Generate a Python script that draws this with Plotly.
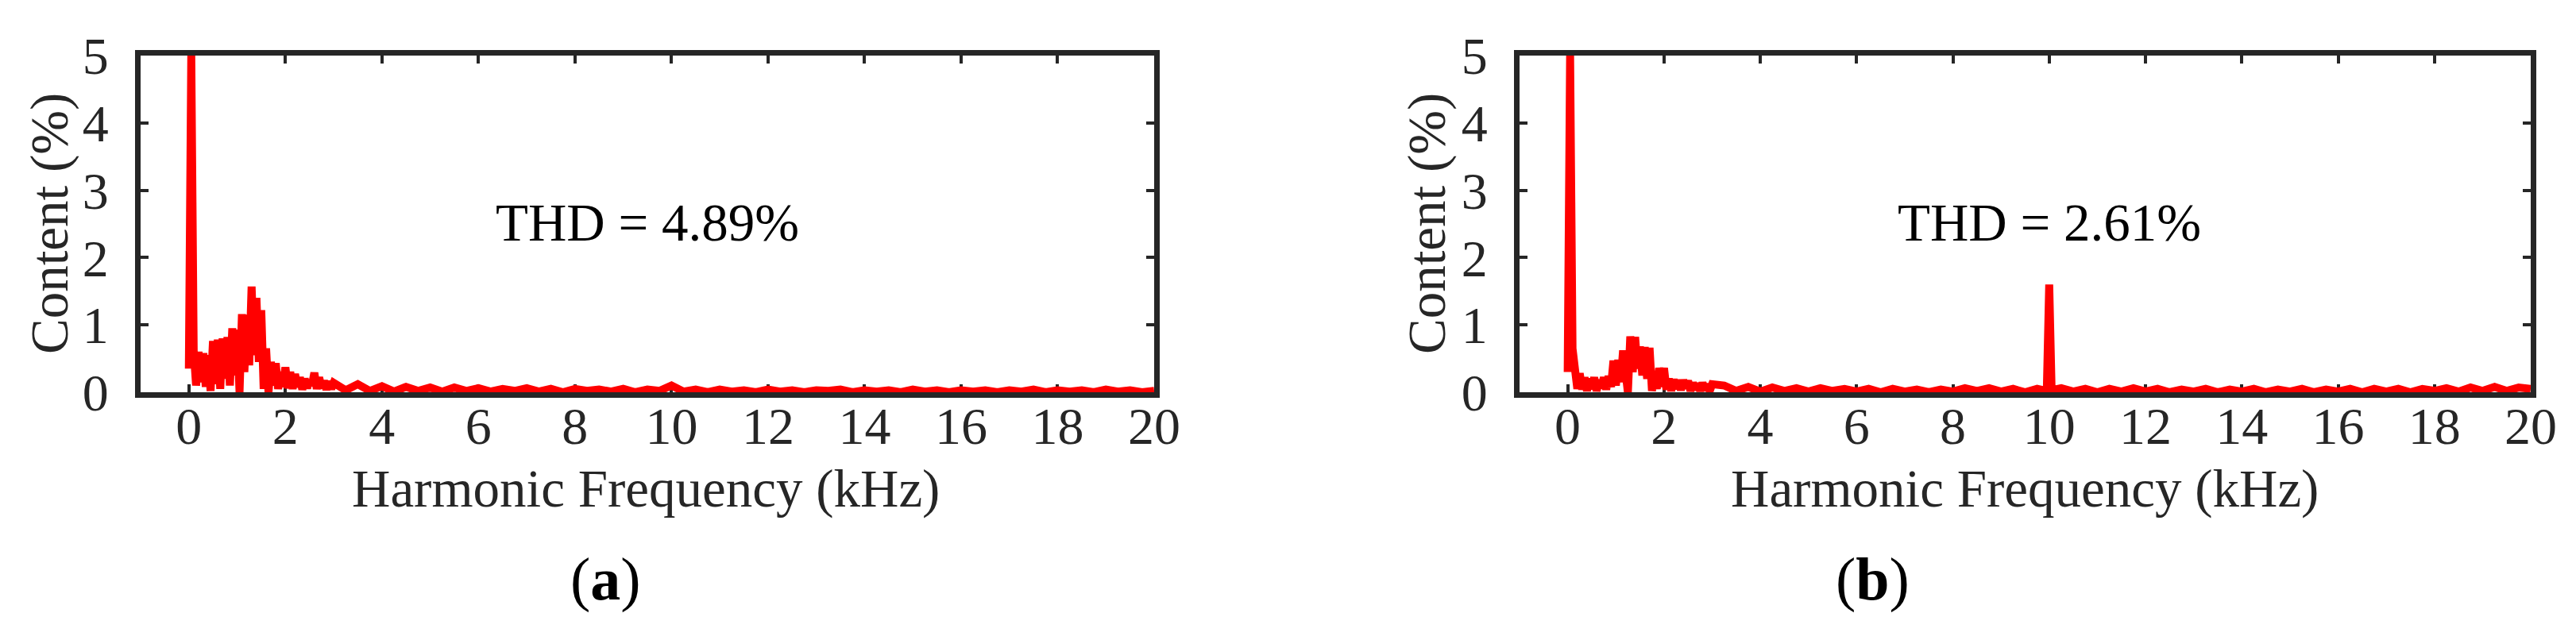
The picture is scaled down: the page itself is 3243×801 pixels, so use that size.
"""Harmonic spectra of the output current, two cases side by side."""

import plotly.graph_objects as go

SERIF = "Liberation Serif, Times New Roman, serif"
AXIS_GREY = "#262626"
RED = "#ff0000"

# ---- panel (a): THD = 4.89 % -------------------------------------------
FREQ_A_LOW = [0.00, 0.05, 0.10, 0.15, 0.20, 0.25, 0.30, 0.35, 0.40, 0.45,
              0.50, 0.55, 0.60, 0.65, 0.70, 0.75, 0.80, 0.85, 0.90, 0.95,
              1.00, 1.05, 1.10, 1.15, 1.20, 1.25, 1.30, 1.35, 1.40, 1.45,
              1.50, 1.55, 1.60, 1.65, 1.70, 1.75, 1.80, 1.85, 1.90, 1.95,
              2.00, 2.05, 2.10, 2.15, 2.20, 2.25, 2.30, 2.35, 2.40, 2.45,
              2.50, 2.55, 2.60, 2.65, 2.70, 2.75, 2.80, 2.85, 2.90, 2.95,
              3.00]
CONTENT_A_LOW = [0.35, 5.00, 0.62, 0.10, 0.60, 0.15, 0.58, 0.08, 0.55, 0.02,
                 0.76, 0.12, 0.78, 0.05, 0.80, 0.20, 0.82, 0.10, 0.95, 0.25,
                 0.93, 0.00, 1.16, 0.30, 1.15, 0.40, 1.57, 0.55, 1.40, 0.45,
                 1.22, 0.05, 0.65, 0.00, 0.45, 0.10, 0.43, 0.05, 0.30, 0.08,
                 0.37, 0.06, 0.30, 0.05, 0.27, 0.08, 0.22, 0.04, 0.20, 0.06,
                 0.18, 0.10, 0.29, 0.05, 0.22, 0.06, 0.17, 0.04, 0.16, 0.05,
                 0.14]
FREQ_A_HIGH = [3.25, 3.50, 3.75, 4.00, 4.25, 4.50, 4.75, 5.00, 5.25, 5.50,
               5.75, 6.00, 6.25, 6.50, 6.75, 7.00, 7.25, 7.50, 7.75, 8.00,
               8.25, 8.50, 8.75, 9.00, 9.25, 9.50, 9.75, 10.00, 10.25, 10.50,
               10.75, 11.00, 11.25, 11.50, 11.75, 12.00, 12.25, 12.50, 12.75, 13.00,
               13.25, 13.50, 13.75, 14.00, 14.25, 14.50, 14.75, 15.00, 15.25, 15.50,
               15.75, 16.00, 16.25, 16.50, 16.75, 17.00, 17.25, 17.50, 17.75, 18.00,
               18.25, 18.50, 18.75, 19.00, 19.25, 19.50, 19.75, 20.00]
CONTENT_A_HIGH = [0.03, 0.12, 0.02, 0.09, 0.01, 0.08, 0.02, 0.07, 0.01, 0.07,
                  0.02, 0.06, 0.01, 0.05, 0.02, 0.06, 0.01, 0.05, 0.00, 0.05,
                  0.02, 0.04, 0.01, 0.05, 0.00, 0.04, 0.02, 0.10, 0.01, 0.04,
                  0.00, 0.04, 0.01, 0.03, 0.00, 0.04, 0.01, 0.03, 0.00, 0.03,
                  0.02, 0.04, 0.00, 0.03, 0.01, 0.03, 0.00, 0.04, 0.01, 0.03,
                  0.00, 0.03, 0.01, 0.03, 0.00, 0.03, 0.01, 0.04, 0.00, 0.03,
                  0.01, 0.03, 0.00, 0.04, 0.01, 0.03, 0.00, 0.02]

# ---- panel (b): THD = 2.61 % -------------------------------------------
FREQ_B_LOW = FREQ_A_LOW
CONTENT_B_LOW = [0.30, 5.00, 0.65, 0.30, 0.05, 0.28, 0.04, 0.22, 0.02, 0.20,
                 0.05, 0.22, 0.02, 0.18, 0.06, 0.22, 0.04, 0.24, 0.08, 0.47,
                 0.10, 0.48, 0.15, 0.62, 0.20, 0.00, 0.83, 0.30, 0.82, 0.35,
                 0.68, 0.25, 0.67, 0.20, 0.66, 0.02, 0.30, 0.05, 0.36, 0.08,
                 0.36, 0.04, 0.20, 0.02, 0.19, 0.05, 0.18, 0.03, 0.18, 0.06,
                 0.17, 0.02, 0.14, 0.04, 0.13, 0.02, 0.14, 0.03, 0.12, 0.02,
                 0.12]
FREQ_B_HIGH = [3.25, 3.50, 3.75, 4.00, 4.25, 4.50, 4.75, 5.00, 5.25, 5.50,
               5.75, 6.00, 6.25, 6.50, 6.75, 7.00, 7.25, 7.50, 7.75, 8.00,
               8.25, 8.50, 8.75, 9.00, 9.25, 9.50, 9.75, 9.95, 10.00, 10.05,
               10.25, 10.50, 10.75, 11.00, 11.25, 11.50, 11.75, 12.00, 12.25, 12.50,
               12.75, 13.00, 13.25, 13.50, 13.75, 14.00, 14.25, 14.50, 14.75, 15.00,
               15.25, 15.50, 15.75, 16.00, 16.25, 16.50, 16.75, 17.00, 17.25, 17.50,
               17.75, 18.00, 18.25, 18.50, 18.75, 19.00, 19.25, 19.50, 19.75, 20.00]
CONTENT_B_HIGH = [0.10, 0.02, 0.08, 0.01, 0.07, 0.02, 0.06, 0.01, 0.06, 0.02,
                  0.05, 0.01, 0.05, 0.00, 0.05, 0.01, 0.04, 0.00, 0.04, 0.01,
                  0.06, 0.02, 0.06, 0.01, 0.05, 0.00, 0.05, 0.02, 1.60, 0.03,
                  0.06, 0.01, 0.05, 0.00, 0.05, 0.01, 0.06, 0.01, 0.05, 0.00,
                  0.04, 0.01, 0.05, 0.00, 0.04, 0.01, 0.05, 0.00, 0.04, 0.01,
                  0.05, 0.00, 0.04, 0.01, 0.05, 0.00, 0.05, 0.01, 0.05, 0.00,
                  0.05, 0.02, 0.06, 0.01, 0.07, 0.02, 0.08, 0.02, 0.07, 0.05]

THD_TEXT = ["THD = 4.89%", "THD = 2.61%"]
PANEL_TAGS = ["(<b>a</b>)", "(<b>b</b>)"]
X_TITLE = "Harmonic Frequency (kHz)"
Y_TITLE = "Content (%)"
X_TICKS = [0, 2, 4, 6, 8, 10, 12, 14, 16, 18, 20]
Y_TICKS = [0, 1, 2, 3, 4, 5]

# page is 3243 x 801; the html body adds an 8 px margin on every side
PAGE_W, PAGE_H, BODY = 3243, 801, 8
W, H = PAGE_W - 2 * BODY, PAGE_H - 2 * BODY


def px_x(px):
    return (px - BODY) / W


def px_y(py):
    return 1 - (py - BODY) / H


fig = go.Figure()

panels = [
    (FREQ_A_LOW + FREQ_A_HIGH, CONTENT_A_LOW + CONTENT_A_HIGH, "x", "y"),
    (FREQ_B_LOW + FREQ_B_HIGH, CONTENT_B_LOW + CONTENT_B_HIGH, "x2", "y2"),
]
for freq, content, xa, ya in panels:
    fig.add_trace(
        go.Scatter(
            x=freq,
            y=content,
            mode="lines",
            line=dict(color=RED, width=10),
            xaxis=xa,
            yaxis=ya,
            cliponaxis=False,
            showlegend=False,
            hoverinfo="skip",
        )
    )

axis_common = dict(
    showline=True,
    linewidth=7,
    linecolor=AXIS_GREY,
    mirror="ticks",
    ticks="inside",
    ticklen=10,
    tickwidth=4,
    tickcolor=AXIS_GREY,
    showgrid=False,
    zeroline=False,
    automargin=False,
    layer="below traces",
    tickfont=dict(family=SERIF, size=66, color=AXIS_GREY),
)

x_domains = [[px_x(177), px_x(1453)], [px_x(1913), px_x(3186)]]
y_domain = [px_y(494), px_y(70)]

fig.update_layout(
    template="none",
    width=W,
    height=H,
    margin=dict(l=0, r=0, t=0, b=0),
    paper_bgcolor="white",
    plot_bgcolor="white",
    xaxis=dict(axis_common, domain=x_domains[0], range=[-1, 20], tickvals=X_TICKS,
               anchor="y", ticklabelstandoff=-21),
    yaxis=dict(axis_common, domain=y_domain, range=[0, 5], tickvals=Y_TICKS,
               anchor="x", ticklabelstandoff=20),
    xaxis2=dict(axis_common, domain=x_domains[1], range=[-1, 20], tickvals=X_TICKS,
                anchor="y2", ticklabelstandoff=-21),
    yaxis2=dict(axis_common, domain=y_domain, range=[0, 5], tickvals=Y_TICKS,
                anchor="x2", ticklabelstandoff=20),
)

# THD readouts inside each panel
for i, (xa, ya) in enumerate([("x", "y"), ("x2", "y2")]):
    fig.add_annotation(
        x=9.5 if i == 0 else 10.0, y=2.52, xref=xa, yref=ya,
        text=THD_TEXT[i], showarrow=False,
        xanchor="center", yanchor="middle",
        font=dict(family=SERIF, size=67, color="black"),
    )

# axis titles and panel tags, placed in page pixels
for k, (cx, ycx, tag_x) in enumerate([(813, 63, 762), (2549, 1797, 2357)]):
    fig.add_annotation(
        x=px_x(cx), y=px_y(615), xref="paper", yref="paper",
        text=X_TITLE, showarrow=False, xanchor="center", yanchor="middle",
        font=dict(family=SERIF, size=67, color=AXIS_GREY),
    )
    fig.add_annotation(
        x=px_x(ycx), y=px_y(282), xref="paper", yref="paper",
        text=Y_TITLE, showarrow=False, textangle=-90,
        xanchor="center", yanchor="middle",
        font=dict(family=SERIF, size=67, color=AXIS_GREY),
    )
    fig.add_annotation(
        x=px_x(tag_x), y=px_y(729), xref="paper", yref="paper",
        text=PANEL_TAGS[k], showarrow=False, xanchor="center", yanchor="middle",
        font=dict(family=SERIF, size=76, color="black"),
    )

fig.write_html("out.html")
